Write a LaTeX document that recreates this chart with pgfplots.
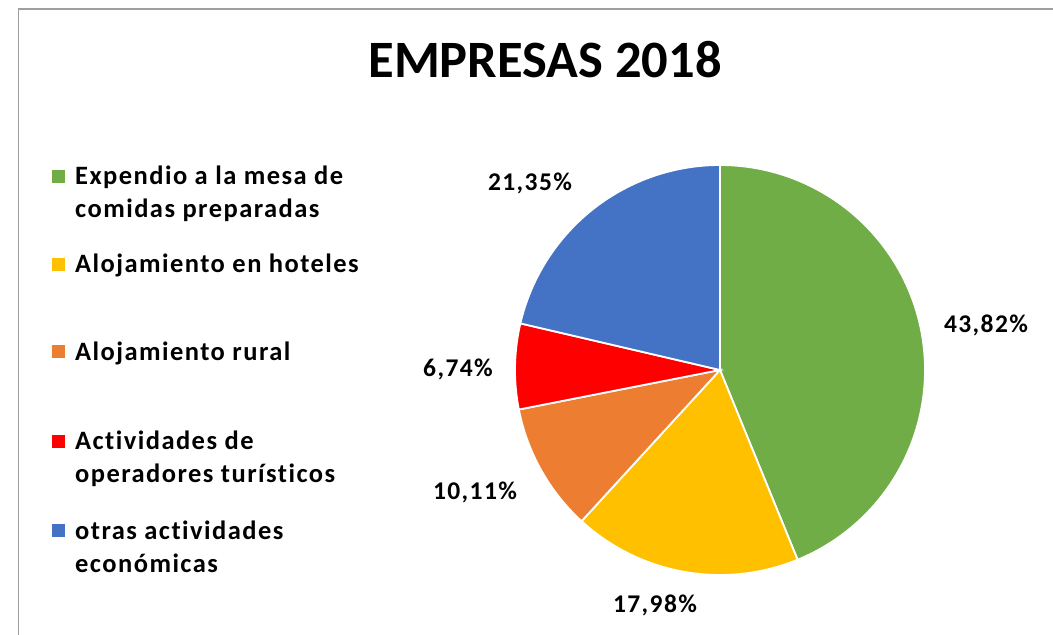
\documentclass[border=0pt]{standalone}
\usepackage{pgfplots}
\pgfplotsset{compat=1.18}
\usepgfplotslibrary{polar}
\usepackage{fontspec}
\setmainfont{Carlito}[Ligatures=NoCommon]
\newfontfamily\widefont[LetterSpace=5.5,Ligatures=NoCommon]{Carlito}
\definecolor{cGreen}{HTML}{70AD47}
\definecolor{cYellow}{HTML}{FFC000}
\definecolor{cOrange}{HTML}{ED7D31}
\definecolor{cRed}{HTML}{FF0000}
\definecolor{cBlue}{HTML}{4472C4}
% shares (%)
\def\vA{43.82}\def\vB{17.98}\def\vC{10.11}\def\vD{6.74}\def\vE{21.35}
\pgfmathsetmacro\aA{90}
\pgfmathsetmacro\aB{\aA-\vA*3.6}
\pgfmathsetmacro\aC{\aB-\vB*3.6}
\pgfmathsetmacro\aD{\aC-\vC*3.6}
\pgfmathsetmacro\aE{\aD-\vD*3.6}
\pgfmathsetmacro\aF{\aE-\vE*3.6}
\begin{document}
\begin{tikzpicture}[x=1pt,y=1pt]
\path[use as bounding box] (0,0) rectangle (1053,635);
\draw[gray!75, line width=1.6pt] (18.5,0) -- (18.5,626) -- (1053,626);
\node[font=\bfseries\fontsize{52.5}{60}\selectfont, anchor=base] at (545,557) {EMPRESAS 2018};
\begin{polaraxis}[at={(720pt,265pt)}, anchor=center, hide axis,
  width=410pt, height=410pt, scale only axis, xmin=0, xmax=360, ymin=0, ymax=1,
  clip=false]
\addplot[fill=cGreen, draw=white, line width=1.8pt, domain=\aB:\aA, samples=90] {1} -- (axis cs:0,0) -- cycle;
\addplot[fill=cYellow, draw=white, line width=1.8pt, domain=\aC:\aB, samples=40] {1} -- (axis cs:0,0) -- cycle;
\addplot[fill=cOrange, draw=white, line width=1.8pt, domain=\aD:\aC, samples=30] {1} -- (axis cs:0,0) -- cycle;
\addplot[fill=cRed, draw=white, line width=1.8pt, domain=\aE:\aD, samples=20] {1} -- (axis cs:0,0) -- cycle;
\addplot[fill=cBlue, draw=white, line width=1.8pt, domain=\aF:\aE, samples=50] {1} -- (axis cs:0,0) -- cycle;
\end{polaraxis}
% data labels
\begin{scope}[every node/.style={font=\widefont\bfseries\fontsize{25.5}{30}\selectfont, anchor=base}]
\node at (986,302) {43,82\%};
\node at (655,22) {17,98\%};
\node at (475,135) {10,11\%};
\node at (458,258) {6,74\%};
\node at (530,444) {21,35\%};
\end{scope}
% legend
\begin{scope}[every node/.style={font=\widefont\bfseries\fontsize{26.5}{33}\selectfont, anchor=base west, inner sep=0pt}]
\fill[cGreen]  (51.5,452) rectangle +(13,13);
\fill[cYellow] (51.5,364) rectangle +(13,13);
\fill[cOrange] (51.5,276.5) rectangle +(13,13);
\fill[cRed]    (51.5,187) rectangle +(13,13);
\fill[cBlue]   (51.5,97.5) rectangle +(13,13);
\node at (75,450) {Expendio a la mesa de};
\node at (75,417) {comidas preparadas};
\node at (75,362) {Alojamiento en hoteles};
\node at (75,274.5) {Alojamiento rural};
\node at (75,185) {Actividades de};
\node at (75,152) {operadores turísticos};
\node at (75,95.5) {otras actividades};
\node at (75,62.5) {económicas};
\end{scope}
\end{tikzpicture}
\end{document}
